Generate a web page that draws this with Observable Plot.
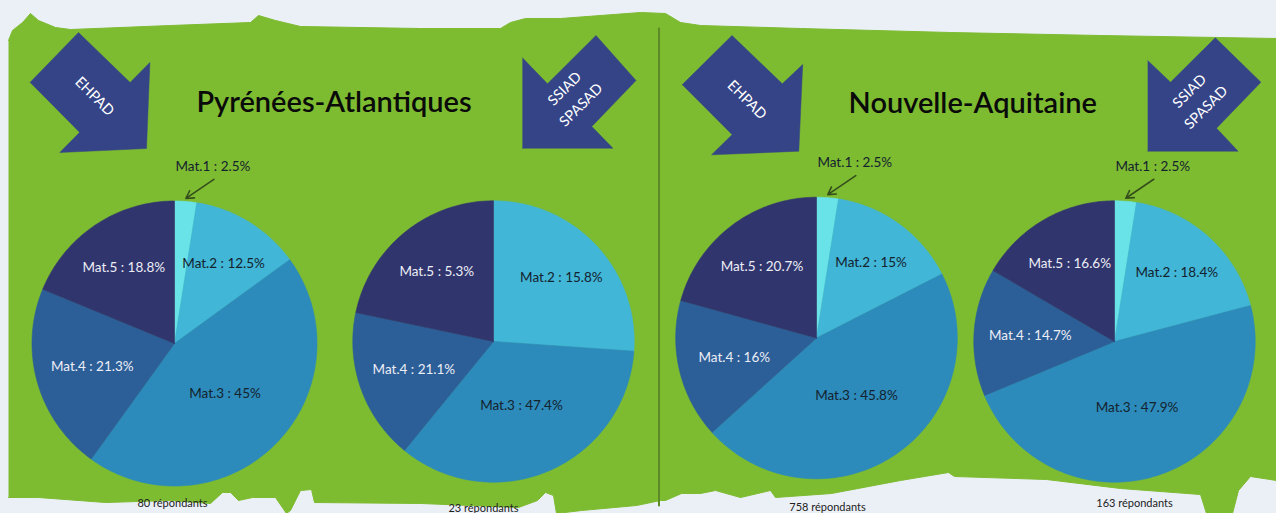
<!DOCTYPE html>
<html>
<head>
<meta charset="utf-8">
<script src="https://cdn.jsdelivr.net/npm/d3@7"></script>
<script src="https://cdn.jsdelivr.net/npm/@observablehq/plot@0.6"></script>
<style>
  html, body { margin: 0; padding: 0; background: #ebf0f7; }
  #chart svg { display: block; }
</style>
</head>
<body>
<div id="chart"></div>
<script>
// ---------------- data ----------------
const categories = ["Mat.1", "Mat.2", "Mat.3", "Mat.4", "Mat.5"];
const regions = ["Pyrénées-Atlantiques", "Nouvelle-Aquitaine"];
const structures = ["EHPAD", "SSIAD\nSPASAD"];

// slice shares (% of the circle, as drawn)
const paEhpadShares = [2.5, 12.5, 45, 21.3, 18.8];
const paSsiadShares = [0, 26.1, 34.8, 17.4, 21.7];
const naEhpadShares = [2.5, 15, 45.8, 16, 20.7];
const naSsiadShares = [2.5, 18.4, 47.9, 14.7, 16.6];

// label values (as printed)
const paEhpadLabels = ["2.5%", "12.5%", "45%", "21.3%", "18.8%"];
const paSsiadLabels = ["", "15.8%", "47.4%", "21.1%", "5.3%"];
const naEhpadLabels = ["2.5%", "15%", "45.8%", "16%", "20.7%"];
const naSsiadLabels = ["2.5%", "18.4%", "47.9%", "14.7%", "16.6%"];

const respondents = [80, 23, 758, 163];

// ---------------- styles ----------------
const sliceColors = ["#69e3e8", "#41b6d6", "#2c8bba", "#2c5e98", "#31356d"];
const green = "#7dbb31";
const arrowBlue = "#344487";
const font = "Lato, 'Open Sans', sans-serif";

// ---------------- layout ----------------
const W = 1276, H = 513;
const pies = [
  {shares: paEhpadShares, labels: paEhpadLabels, n: respondents[0], cx: 174, cy: 343, r: 142.5, ndx: -2, ny: 503},
  {shares: paSsiadShares, labels: paSsiadLabels, n: respondents[1], cx: 493, cy: 341, r: 140.7, ndx: -10, ny: 507.5},
  {shares: naEhpadShares, labels: naEhpadLabels, n: respondents[2], cx: 816, cy: 337.5, r: 140.8, ndx: 11, ny: 507},
  {shares: naSsiadShares, labels: naSsiadLabels, n: respondents[3], cx: 1114, cy: 341, r: 140.7, ndx: 20, ny: 503}
];
const labelRadius = [1.0, 0.66, 0.5, 0.6, 0.64];

// decorative shapes (background brush stroke, arrows)
const greenOutline = [
  [8,40],[12,30],[22,22],[30,13],[38,20],[55,27],[70,29],[170,25],[250,22],[258,15],[275,20],[300,26],[420,28],[500,28],[510,22],[525,18],[560,18],[640,12],[665,13],[680,22],[700,25],[800,28],[950,32],[1100,35],[1276,38],
  [1276,480],[1250,476],[1238,490],[1232,513],[1206,513],[1200,494],[1120,488],[1046,479],[954,476],[948,472],[900,480],[831,493],[775,497],[770,490],[740,497],[715,490],[700,493],[681,493],[665,500],
  [660,500],[636,505],[581,510],[556,513],[553,495],[545,492],[537,500],[518,507],[421,503],[314,502],[311,489],[300,490],[290,510],[286,513],[275,497],[252,497],[238,500],[230,492],[222,492],[210,503],[170,500],[105,502],[38,497],[8,497]
];
const arrowShapes = [
  [[29.5,82],[78,32],[129.6,82],[149.4,62],[146,148],[59.3,152],[79,132]],
  [[521.9,57.3],[547,83.3],[595.5,35],[635.5,80],[591.3,126],[612.4,147.7],[521.9,147.7]],
  [[681.6,84.3],[731.5,35],[781.8,83.3],[802.2,64],[798.3,150.7],[711.1,154.3],[731.5,134.3]],
  [[1147.2,60],[1170,81.7],[1214.8,37.3],[1260.4,81.7],[1216,127.7],[1237.6,150.7],[1147.2,150.7]]
];
const arrowText = [
  {x: 96, y: 94, text: structures[0], rotate: 45},
  {x: 570.5, y: 94.5, text: structures[1], rotate: -45},
  {x: 748.4, y: 97.5, text: structures[0], rotate: 45},
  {x: 1195.4, y: 97, text: structures[1], rotate: -45}
];
const titleRows = [
  {x: 333.5, y: 102, text: regions[0]},
  {x: 972.3, y: 103, text: regions[1]}
];

// ---------------- derived geometry from data ----------------
const slicePts = [];
const labelRows = [];
const calloutRows = [];
pies.forEach((p, pi) => {
  const arcs = d3.pie().sort(null).value(d => d)(p.shares);
  arcs.forEach((a, i) => {
    const span = a.endAngle - a.startAngle;
    if (span <= 0) return;
    const key = pi + "-" + i, cat = categories[i];
    slicePts.push({key, cat, x: p.cx, y: p.cy});
    const steps = Math.max(2, Math.ceil(span / (Math.PI / 180)));
    for (let k = 0; k <= steps; k++) {
      const t = a.startAngle + span * k / steps;
      slicePts.push({key, cat, x: p.cx + p.r * Math.sin(t), y: p.cy - p.r * Math.cos(t)});
    }
    slicePts.push({key, cat, x: p.cx, y: p.cy});
    const mid = (a.startAngle + a.endAngle) / 2;
    const text = `${cat} : ${p.labels[i]}`;
    if (i === 0) {
      const tx = p.cx + (p.r + 3) * Math.sin(mid), ty = p.cy - (p.r + 3) * Math.cos(mid);
      calloutRows.push({x1: tx + 28, y1: ty - 19, x2: tx, y2: ty, lx: tx + 27, ly: ty - 32, text});
    } else {
      const k = labelRadius[i];
      labelRows.push({
        x: p.cx + k * p.r * Math.sin(mid),
        y: p.cy - k * p.r * Math.cos(mid),
        text, light: i >= 3
      });
    }
  });
});
const respRows = pies.map(p => ({x: p.cx + p.ndx, y: p.ny, text: `${p.n} répondants`}));
const greenPts = greenOutline.map(([x, y]) => ({x, y}));
const arrowPts = arrowShapes.flatMap((s, k) => s.map(([x, y]) => ({x, y, k})));

const chart = Plot.plot({
  width: W, height: H,
  margin: 0,
  x: {domain: [0, W], range: [0, W], axis: null},
  y: {domain: [0, H], range: [0, H], axis: null},
  color: {domain: categories, range: sliceColors},
  style: {background: "transparent", fontFamily: font},
  marks: [
    Plot.line(greenPts, {x: "x", y: "y", fill: green, stroke: green, strokeWidth: 1}),
    Plot.line([{x: 658.5, y: 28}, {x: 658.5, y: 505}], {x: "x", y: "y", stroke: "#5b8a26", strokeWidth: 2}),
    Plot.line(arrowPts, {x: "x", y: "y", z: "k", fill: arrowBlue, stroke: arrowBlue, strokeWidth: 0.5}),
    ...arrowText.map(d => Plot.text([d], {x: "x", y: "y", text: "text", rotate: d.rotate, fill: "white", fontSize: 14.5, lineHeight: 1.6, fontFamily: font})),
    Plot.text(titleRows, {x: "x", y: "y", text: "text", fontSize: 29, fontWeight: 600, fill: "#0a0a0a", fontFamily: font}),
    Plot.line(slicePts, {x: "x", y: "y", z: "key", fill: "cat", stroke: "cat", strokeWidth: 0.6}),
    Plot.text(labelRows.filter(d => !d.light), {x: "x", y: "y", text: "text", fontSize: 13.5, fill: "#14222e", fontFamily: font}),
    Plot.text(labelRows.filter(d => d.light), {x: "x", y: "y", text: "text", fontSize: 13.5, fill: "#eceef6", fontFamily: font}),
    Plot.arrow(calloutRows, {x1: "x1", y1: "y1", x2: "x2", y2: "y2", stroke: "#354f1c", strokeWidth: 1.6, headLength: 8}),
    Plot.text(calloutRows, {x: "lx", y: "ly", text: "text", fontSize: 13.5, fill: "#14222e", fontFamily: font}),
    Plot.text(respRows, {x: "x", y: "y", text: "text", fontSize: 11, fill: "#222", fontFamily: font})
  ]
});
document.getElementById("chart").appendChild(chart);
</script>
</body>
</html>
